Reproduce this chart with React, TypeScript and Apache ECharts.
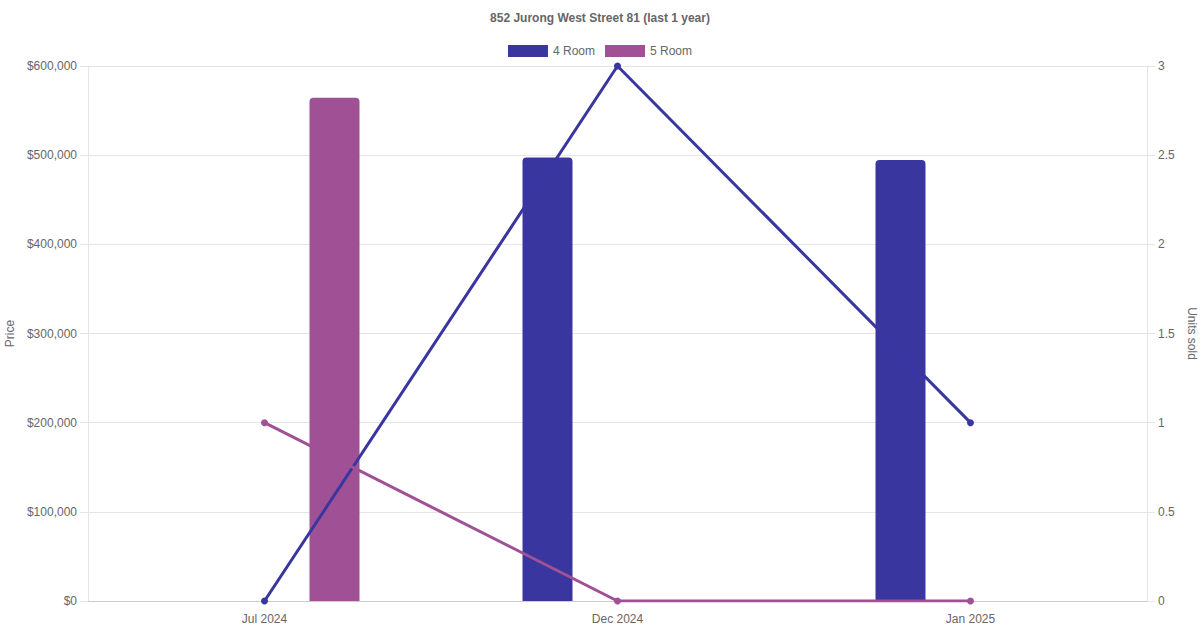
import { useRef, useEffect } from 'react'
import * as echarts from 'echarts'

const MONTHS = ['Jul 2024', 'Dec 2024', 'Jan 2025']
const PRICE_4_ROOM = [null, 497500, 494500]
const PRICE_5_ROOM = [564500, null, null]
const UNITS_4_ROOM = [0, 3, 1]
const UNITS_5_ROOM = [1, 0, 0]

const BLUE = '#3a36a0'
const PURPLE = '#a05195'
const TEXT = '#666666'
const GRID = '#e5e5e5'
const FONT = "'Liberation Sans', Arial, sans-serif"

function buildOption(): echarts.EChartsOption {
  return {
    animation: false,
    backgroundColor: '#ffffff',
    textStyle: { fontFamily: FONT },
    title: {
      text: '852 Jurong West Street 81 (last 1 year)',
      left: 'center',
      top: 7,
      textStyle: { color: TEXT, fontSize: 12, fontWeight: 'bold', fontFamily: FONT },
    },
    legend: {
      top: 40,
      left: 'center',
      data: ['4 Room', '5 Room'],
      icon: 'rect',
      itemWidth: 40,
      itemHeight: 12,
      itemGap: 10,
      textStyle: { color: TEXT, fontSize: 12, fontFamily: FONT },
    },
    grid: { left: 88, right: 53, top: 66, bottom: 29, containLabel: false, outerBoundsMode: 'none' } as any,
    xAxis: {
      type: 'category',
      data: MONTHS,
      axisTick: { show: false },
      axisLine: { lineStyle: { color: '#cccccc', width: 1 } },
      axisLabel: { color: TEXT, fontSize: 12, margin: 12, fontFamily: FONT },
      splitLine: { show: false },
    },
    yAxis: [
      {
        type: 'value',
        min: 0,
        max: 600000,
        interval: 100000,
        name: 'Price',
        nameLocation: 'middle',
        nameGap: 71,
        nameTextStyle: { color: TEXT, fontSize: 12, fontFamily: FONT },
        axisLine: { show: true, lineStyle: { color: GRID } },
        axisTick: { show: true, length: 8, lineStyle: { color: GRID } },
        axisLabel: {
          color: TEXT,
          fontSize: 12,
          margin: 11,
          fontFamily: FONT,
          formatter: (v: number) => '$' + v.toLocaleString('en-US'),
        },
        splitLine: { lineStyle: { color: GRID } },
      },
      {
        type: 'value',
        position: 'right',
        min: 0,
        max: 3,
        interval: 0.5,
        name: 'Units sold',
        nameLocation: 'middle',
        nameGap: 36,
        nameRotate: -90,
        nameTextStyle: { color: TEXT, fontSize: 12, fontFamily: FONT },
        axisLine: { show: true, lineStyle: { color: GRID } },
        axisTick: { show: true, length: 8, lineStyle: { color: GRID } },
        axisLabel: { color: TEXT, fontSize: 12, margin: 11, fontFamily: FONT },
        splitLine: { show: false },
      },
    ],
    series: [
      {
        name: '4 Room',
        type: 'bar',
        data: PRICE_4_ROOM,
        barWidth: 50,
        barGap: '180%',
        itemStyle: { color: BLUE, borderRadius: [4, 4, 0, 0] },
      },
      {
        name: '5 Room',
        type: 'bar',
        data: PRICE_5_ROOM,
        barWidth: 50,
        barGap: '180%',
        itemStyle: { color: PURPLE, borderRadius: [4, 4, 0, 0] },
      },
      {
        name: '4 Room',
        type: 'line',
        yAxisIndex: 1,
        data: UNITS_4_ROOM,
        symbol: 'circle',
        symbolSize: 7,
        lineStyle: { color: BLUE, width: 3 },
        itemStyle: { color: BLUE },
        z: 5,
      },
      {
        name: '5 Room',
        type: 'line',
        yAxisIndex: 1,
        data: UNITS_5_ROOM,
        symbol: 'circle',
        symbolSize: 7,
        lineStyle: { color: PURPLE, width: 3 },
        itemStyle: { color: PURPLE },
        z: 5,
      },
    ],
  }
}

export default function App() {
  const ref = useRef<HTMLDivElement>(null)

  useEffect(() => {
    const el = ref.current
    if (!el) return
    const chart = echarts.init(el, null, { renderer: 'svg' })
    chart.setOption(buildOption())
    return () => chart.dispose()
  }, [])

  return (
    <div
      ref={ref}
      style={{ position: 'fixed', left: 0, top: 0, width: 1200, height: 630, background: '#ffffff' }}
    />
  )
}
